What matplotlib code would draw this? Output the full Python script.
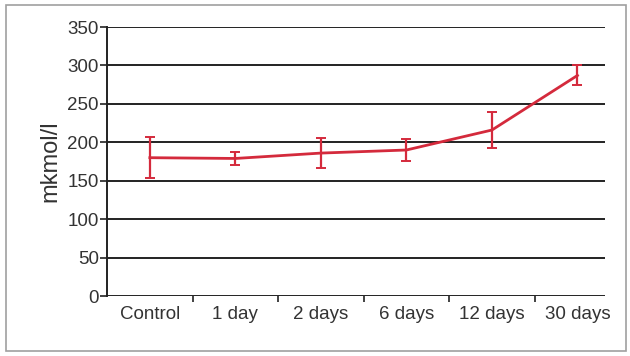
import matplotlib
matplotlib.use("Agg")
import matplotlib.pyplot as plt
from matplotlib.patches import Rectangle

# dados
categorias = ["Control", "1 day", "2 days", "6 days", "12 days", "30 days"]
valores = [180, 179, 186, 190, 216, 287]
erros = [27, 9, 19, 14, 23, 13]

fig = plt.figure(figsize=(6.3, 3.56), dpi=100)
fig.patches.append(Rectangle((0.01, 0.015), 0.983, 0.97, transform=fig.transFigure,
                             fill=False, edgecolor="#a0a0a0", linewidth=1.2))
ax = fig.add_axes([0.170, 0.1685, 0.790, 0.7555])

x = list(range(len(categorias)))
ax.errorbar(x, valores, yerr=erros, color="#d42a3c", linewidth=2,
            elinewidth=1.6, capsize=3.5, capthick=1.4, zorder=3)

ax.set_ylim(0, 350)
ax.set_xlim(-0.5, 5.32)
ax.set_yticks(range(0, 351, 50))
ax.yaxis.grid(True, color="#222222", linewidth=1.4)
ax.set_axisbelow(True)

for s in ["top", "right", "bottom"]:
    ax.spines[s].set_visible(False)
ax.spines["left"].set_linewidth(1.4)
ax.spines["left"].set_color("#222222")

# ticks nas divisoes das categorias
ax.set_xticks([i + 0.5 for i in range(5)])
ax.set_xticklabels([])
ax.set_xticks(x, minor=True)
ax.set_xticklabels(categorias, minor=True, fontsize=13.5, color="#333333")
ax.tick_params(axis="x", which="minor", length=0, pad=7)
ax.tick_params(axis="x", which="major", length=4, width=1.2, color="#222222")
ax.tick_params(axis="y", length=5, width=1.2, color="#222222", labelsize=13.5,
               labelcolor="#333333", pad=1)
for lab in ax.get_yticklabels():
    lab.set_fontname("Liberation Sans")
for lab in ax.get_xticklabels(minor=True):
    lab.set_fontname("Liberation Sans")

ax.set_ylabel("mkmol/l", fontsize=17, color="#333333", fontname="Liberation Sans", labelpad=4)

fig.savefig("out.png", dpi=100)
